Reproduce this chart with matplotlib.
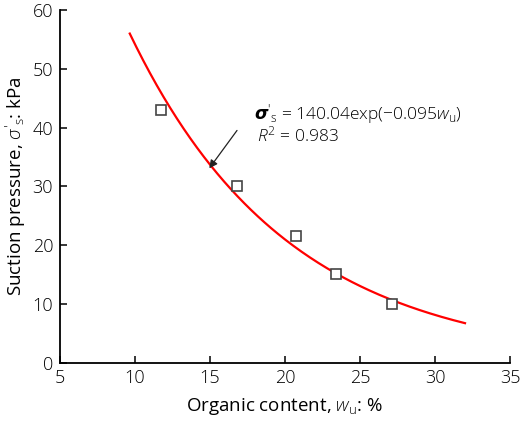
import numpy as np
import matplotlib
matplotlib.use("Agg")
import matplotlib.pyplot as plt

plt.rcParams['font.family'] = ['Open Sans', 'DejaVu Sans']
plt.rcParams['font.weight'] = 300
plt.rcParams['mathtext.fontset'] = 'custom'
plt.rcParams['mathtext.rm'] = 'Open Sans:light'
plt.rcParams['mathtext.it'] = 'Open Sans:italic:light'
plt.rcParams['mathtext.bf'] = 'Open Sans:bold'

# measured points
organic = [11.7, 16.8, 20.7, 23.4, 27.1]
suction = [43.0, 30.0, 21.5, 15.0, 10.0]

# fitted curve parameters (from the chart annotation)
fit_a = 140.04
fit_b = -0.095
fit_range = [9.65, 32.0]

xticks = [5, 10, 15, 20, 25, 30, 35]
yticks = [0, 10, 20, 30, 40, 50, 60]

fig = plt.figure(figsize=(5.2, 4.26), dpi=100)
ax = fig.add_axes([0.1154, 0.149, 0.8654, 0.8275])

xf = np.linspace(fit_range[0], fit_range[1], 200)
ax.plot(xf, fit_a * np.exp(fit_b * xf), color='#ff0000', lw=1.6, zorder=2)
ax.plot(organic, suction, 's', mfc='white', mec='#444444', mew=1.2, ms=7.5, zorder=3)

ax.set_xlim(5, 35)
ax.set_ylim(0, 60)
ax.set_xticks(xticks)
ax.set_yticks(yticks)
for s in ['top', 'right']:
    ax.spines[s].set_visible(False)
for s in ['left', 'bottom']:
    ax.spines[s].set_linewidth(1.3)
ax.tick_params(direction='in', length=5, width=1.1, labelsize=13, pad=5)

ax.set_xlabel(r'Organic content, $\it{w}_{\rm u}$: %', fontsize=13.5, labelpad=6)
ax.set_ylabel(r"Suction pressure, $\sigma'_{\rm s}$: kPa", fontsize=13.5, labelpad=3)

ax.annotate('', xy=(14.95, 33.05), xytext=(16.8, 39.5),
            arrowprops=dict(arrowstyle='-|>', color='#222222', lw=0.9,
                            mutation_scale=12, shrinkA=0, shrinkB=0))
ax.text(17.9, 41.3, r"$\boldsymbol{\sigma}'_{\rm s}$ = 140.04exp(−0.095$\it{w}_{\rm u}$)",
        fontsize=12.5, va='baseline')
ax.text(18.1, 37.7, r"$\it{R}^2$ = 0.983", fontsize=12.5, va='baseline')

fig.savefig('out.png', dpi=100)
